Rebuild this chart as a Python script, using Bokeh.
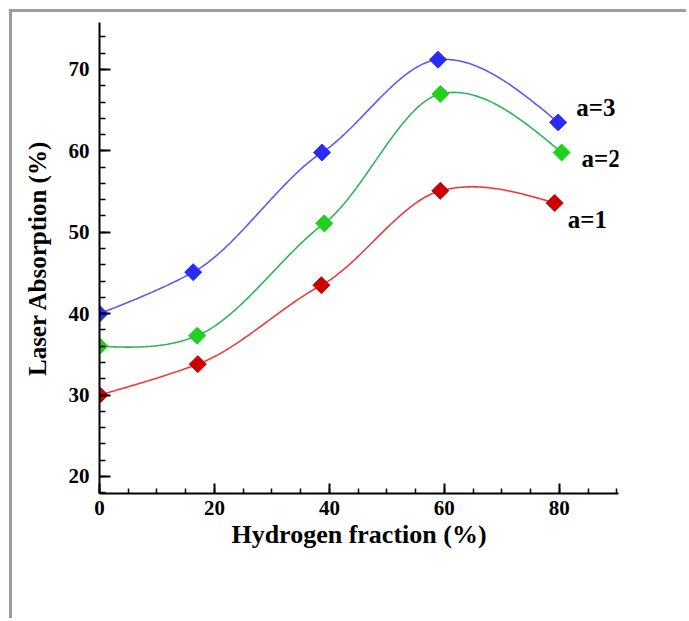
import numpy as np
from bokeh.plotting import figure
from bokeh.models import Range1d, FixedTicker, ColumnDataSource
from bokeh.core.properties import value
from bokeh.embed import file_html
from bokeh.resources import INLINE

# ---- data ----
x_a3 = [0, 16.3, 38.7, 58.9, 79.8]
y_a3 = [40.0, 45.1, 59.8, 71.2, 63.5]
x_a2 = [0, 17.0, 39.1, 59.3, 80.4]
y_a2 = [36.0, 37.3, 51.1, 67.0, 59.8]
x_a1 = [0, 17.1, 38.6, 59.3, 79.2]
y_a1 = [30.0, 33.8, 43.5, 55.1, 53.6]
series_names = ["a=3", "a=2", "a=1"]
x_ticks = [0, 20, 40, 60, 80]
y_ticks = [20, 30, 40, 50, 60, 70]


def smooth_curve(xs, ys, n=300, tension=0.75):
    """Cubic Hermite curve through the points (cardinal-spline slopes)."""
    x = np.asarray(xs, float)
    y = np.asarray(ys, float)
    N = len(x)
    m = np.zeros(N)
    for i in range(1, N - 1):
        m[i] = tension * (y[i + 1] - y[i - 1]) / (x[i + 1] - x[i - 1])
    m[0] = (3 * (y[1] - y[0]) / (x[1] - x[0]) - m[1]) / 2
    m[-1] = (3 * (y[-1] - y[-2]) / (x[-1] - x[-2]) - m[-2]) / 2
    xx = np.linspace(x[0], x[-1], n)
    idx = np.clip(np.searchsorted(x, xx, side="right") - 1, 0, N - 2)
    h = x[idx + 1] - x[idx]
    t = (xx - x[idx]) / h
    h00 = 2 * t ** 3 - 3 * t ** 2 + 1
    h10 = t ** 3 - 2 * t ** 2 + t
    h01 = -2 * t ** 3 + 3 * t ** 2
    h11 = t ** 3 - t ** 2
    yy = h00 * y[idx] + h10 * h * m[idx] + h01 * y[idx + 1] + h11 * h * m[idx + 1]
    return xx, yy


FONT = "Liberation Serif"
PAD = 12  # gray page frame offset

p = figure(width=689 - PAD, height=621 - PAD, output_backend="svg",
           toolbar_location=None,
           x_range=Range1d(0, 90.3), y_range=Range1d(17.91, 75.77),
           min_border_left=99 - PAD, min_border_right=71, min_border_top=22 - PAD,
           min_border_bottom=128)
p.styles = {"margin-left": "9px", "margin-top": "9px",
            "border-left": "3px solid #9c9c9c", "border-top": "3px solid #9c9c9c"}
p.outline_line_color = None
p.xgrid.visible = False
p.ygrid.visible = False
p.background_fill_color = "white"
p.border_fill_color = "white"

series = [
    (x_a3, y_a3, "#2b2bf7", "#5b5bf2"),
    (x_a2, y_a2, "#1fd21f", "#2fb45a"),
    (x_a1, y_a1, "#cc0000", "#ee3a3a"),
]
for xs, ys, mcol, lcol in series:
    sx, sy = smooth_curve(xs, ys)
    p.line(sx, sy, line_color=lcol, line_width=1.6)
    p.scatter(xs, ys, marker="square", angle=np.pi / 4, size=12,
              fill_color=mcol, line_color=mcol)

# end labels
lab = ColumnDataSource(dict(
    x=[x_a3[-1], x_a2[-1], x_a1[-1]],
    y=[y_a3[-1], y_a2[-1], y_a1[-1]],
    t=series_names,
    dx=[18, 20, 13],
    dy=[-15, 6, 17],
))
p.text(x="x", y="y", text="t", x_offset="dx", y_offset="dy", source=lab,
       text_font=value(FONT), text_font_style="bold",
       text_font_size=value("25px"), text_color="black",
       text_align="left", text_baseline="middle")

for ax in (p.xaxis[0], p.yaxis[0]):
    ax.axis_line_color = "black"
    ax.axis_line_width = 2
    ax.major_tick_line_color = "black"
    ax.minor_tick_line_color = "black"
    ax.major_tick_line_width = 2
    ax.minor_tick_line_width = 1.5
    ax.major_tick_out = 0
    ax.minor_tick_out = 0
    ax.major_label_text_font = FONT
    ax.major_label_text_font_style = "bold"
    ax.major_label_text_font_size = "21px"
    ax.major_label_text_color = "black"
    ax.axis_label_text_font = FONT
    ax.axis_label_text_font_style = "bold"
    ax.axis_label_text_color = "black"

p.xaxis.ticker = FixedTicker(ticks=x_ticks, minor_ticks=list(range(0, 91, 5)))
p.yaxis.ticker = FixedTicker(ticks=y_ticks, minor_ticks=list(range(18, 76, 2)))
p.xaxis.major_tick_in = 10
p.xaxis.minor_tick_in = 5
p.yaxis.major_tick_in = 11
p.yaxis.minor_tick_in = 6
p.xaxis.major_label_standoff = 7
p.yaxis.major_label_standoff = 10
p.xaxis.axis_label = "Hydrogen fraction (%)"
p.yaxis.axis_label = "Laser Absorption (%)"
p.xaxis.axis_label_text_font_size = "26px"
p.yaxis.axis_label_text_font_size = "25px"
p.xaxis.axis_label_standoff = 2
p.yaxis.axis_label_standoff = 15

open("out.html", "w").write(file_html(p, INLINE))
